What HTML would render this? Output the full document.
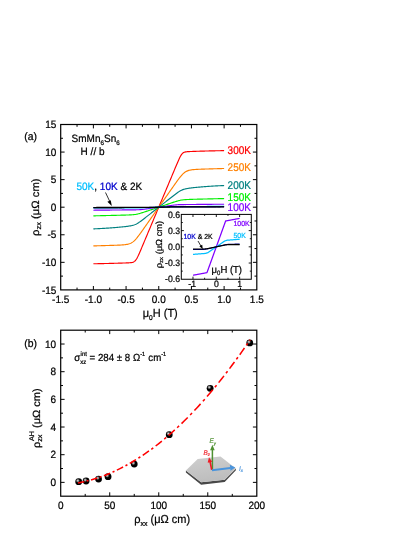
<!DOCTYPE html>
<html><head><meta charset="utf-8">
<style>
html,body{margin:0;padding:0;background:#fff;}
svg{display:block;will-change:transform;text-rendering:geometricPrecision;}
text{font-family:"Liberation Sans",sans-serif;stroke-width:0.22px;}
</style></head><body>
<svg width="415" height="537" viewBox="0 0 415 537">
<rect x="0" y="0" width="415" height="537" fill="#fff"/>

<g id="panelA">
<g fill="none" stroke-width="1.15" stroke-linejoin="round">
<path d="M93.38,263.77 L94.04,263.76 L94.69,263.74 L95.34,263.73 L96.00,263.72 L96.65,263.71 L97.31,263.70 L97.96,263.69 L98.61,263.67 L99.27,263.66 L99.92,263.65 L100.57,263.63 L101.23,263.62 L101.88,263.61 L102.53,263.59 L103.19,263.58 L103.84,263.56 L104.50,263.55 L105.15,263.53 L105.80,263.52 L106.46,263.50 L107.11,263.49 L107.76,263.47 L108.42,263.46 L109.07,263.44 L109.73,263.42 L110.38,263.41 L111.03,263.39 L111.69,263.37 L112.34,263.36 L112.99,263.34 L113.65,263.32 L114.30,263.30 L114.95,263.28 L115.61,263.27 L116.26,263.25 L116.92,263.23 L117.57,263.21 L118.22,263.19 L118.88,263.17 L119.53,263.15 L120.18,263.13 L120.84,263.11 L121.49,263.09 L122.14,263.07 L122.80,263.04 L123.45,263.02 L124.11,263.00 L124.76,262.98 L125.41,262.95 L126.07,262.93 L126.72,262.90 L127.37,262.87 L128.03,262.84 L128.68,262.81 L129.34,262.77 L129.99,262.72 L130.64,262.66 L131.30,262.59 L131.95,262.48 L132.60,262.33 L133.26,262.11 L133.91,261.80 L134.56,261.37 L135.22,260.77 L135.87,259.98 L136.53,259.01 L137.18,257.86 L137.83,256.57 L138.49,255.18 L139.14,253.72 L139.79,252.22 L140.45,250.70 L141.10,249.16 L141.75,247.62 L142.41,246.06 L143.06,244.51 L143.72,242.96 L144.37,241.40 L145.02,239.85 L145.68,238.30 L146.33,236.74 L146.98,235.19 L147.64,233.63 L148.29,232.08 L148.95,230.52 L149.60,228.97 L150.25,227.41 L150.91,225.86 L151.56,224.30 L152.21,222.75 L152.87,221.19 L153.52,219.64 L154.17,218.08 L154.83,216.53 L155.48,214.97 L156.14,213.42 L156.79,211.86 L157.44,210.31 L158.10,208.75 L158.75,207.20 L159.40,205.65 L160.06,204.09 L160.71,202.54 L161.36,200.98 L162.02,199.43 L162.67,197.87 L163.33,196.32 L163.98,194.76 L164.63,193.21 L165.29,191.65 L165.94,190.10 L166.59,188.54 L167.25,186.99 L167.90,185.43 L168.56,183.88 L169.21,182.32 L169.86,180.77 L170.52,179.21 L171.17,177.66 L171.82,176.10 L172.48,174.55 L173.13,173.00 L173.78,171.44 L174.44,169.89 L175.09,168.34 L175.75,166.78 L176.40,165.24 L177.05,163.70 L177.71,162.18 L178.36,160.68 L179.01,159.22 L179.67,157.83 L180.32,156.54 L180.97,155.39 L181.63,154.42 L182.28,153.63 L182.94,153.03 L183.59,152.60 L184.24,152.29 L184.90,152.07 L185.55,151.92 L186.20,151.81 L186.86,151.74 L187.51,151.68 L188.17,151.63 L188.82,151.59 L189.47,151.56 L190.13,151.53 L190.78,151.50 L191.43,151.47 L192.09,151.45 L192.74,151.42 L193.39,151.40 L194.05,151.38 L194.70,151.36 L195.36,151.33 L196.01,151.31 L196.66,151.29 L197.32,151.27 L197.97,151.25 L198.62,151.23 L199.28,151.21 L199.93,151.19 L200.58,151.17 L201.24,151.15 L201.89,151.13 L202.55,151.12 L203.20,151.10 L203.85,151.08 L204.51,151.06 L205.16,151.04 L205.81,151.03 L206.47,151.01 L207.12,150.99 L207.78,150.98 L208.43,150.96 L209.08,150.94 L209.74,150.93 L210.39,150.91 L211.04,150.90 L211.70,150.88 L212.35,150.87 L213.00,150.85 L213.66,150.84 L214.31,150.82 L214.97,150.81 L215.62,150.79 L216.27,150.78 L216.93,150.77 L217.58,150.75 L218.23,150.74 L218.89,150.73 L219.54,150.71 L220.19,150.70 L220.85,150.69 L221.50,150.68 L222.16,150.67 L222.81,150.66 L223.46,150.64 L224.12,150.63" stroke="#ff0000"/>
<path d="M93.38,245.90 L94.04,245.88 L94.69,245.87 L95.34,245.85 L96.00,245.83 L96.65,245.81 L97.31,245.79 L97.96,245.77 L98.61,245.76 L99.27,245.74 L99.92,245.72 L100.57,245.70 L101.23,245.68 L101.88,245.66 L102.53,245.64 L103.19,245.63 L103.84,245.61 L104.50,245.59 L105.15,245.57 L105.80,245.55 L106.46,245.53 L107.11,245.51 L107.76,245.49 L108.42,245.47 L109.07,245.45 L109.73,245.43 L110.38,245.42 L111.03,245.40 L111.69,245.38 L112.34,245.36 L112.99,245.33 L113.65,245.31 L114.30,245.29 L114.95,245.27 L115.61,245.25 L116.26,245.22 L116.92,245.20 L117.57,245.17 L118.22,245.15 L118.88,245.12 L119.53,245.09 L120.18,245.06 L120.84,245.02 L121.49,244.99 L122.14,244.94 L122.80,244.90 L123.45,244.84 L124.11,244.79 L124.76,244.72 L125.41,244.64 L126.07,244.55 L126.72,244.44 L127.37,244.32 L128.03,244.17 L128.68,244.00 L129.34,243.79 L129.99,243.55 L130.64,243.27 L131.30,242.94 L131.95,242.56 L132.60,242.12 L133.26,241.63 L133.91,241.08 L134.56,240.47 L135.22,239.81 L135.87,239.10 L136.53,238.34 L137.18,237.55 L137.83,236.73 L138.49,235.88 L139.14,235.01 L139.79,234.12 L140.45,233.22 L141.10,232.31 L141.75,231.39 L142.41,230.47 L143.06,229.55 L143.72,228.62 L144.37,227.69 L145.02,226.76 L145.68,225.83 L146.33,224.90 L146.98,223.97 L147.64,223.04 L148.29,222.11 L148.95,221.18 L149.60,220.24 L150.25,219.31 L150.91,218.38 L151.56,217.45 L152.21,216.52 L152.87,215.59 L153.52,214.65 L154.17,213.72 L154.83,212.79 L155.48,211.86 L156.14,210.93 L156.79,210.00 L157.44,209.06 L158.10,208.13 L158.75,207.20 L159.40,206.27 L160.06,205.34 L160.71,204.40 L161.36,203.47 L162.02,202.54 L162.67,201.61 L163.33,200.68 L163.98,199.75 L164.63,198.81 L165.29,197.88 L165.94,196.95 L166.59,196.02 L167.25,195.09 L167.90,194.16 L168.56,193.22 L169.21,192.29 L169.86,191.36 L170.52,190.43 L171.17,189.50 L171.82,188.57 L172.48,187.64 L173.13,186.71 L173.78,185.78 L174.44,184.85 L175.09,183.93 L175.75,183.01 L176.40,182.09 L177.05,181.18 L177.71,180.28 L178.36,179.39 L179.01,178.52 L179.67,177.67 L180.32,176.85 L180.97,176.06 L181.63,175.30 L182.28,174.59 L182.94,173.93 L183.59,173.32 L184.24,172.77 L184.90,172.28 L185.55,171.84 L186.20,171.46 L186.86,171.13 L187.51,170.85 L188.17,170.61 L188.82,170.40 L189.47,170.23 L190.13,170.08 L190.78,169.96 L191.43,169.85 L192.09,169.76 L192.74,169.68 L193.39,169.61 L194.05,169.56 L194.70,169.50 L195.36,169.46 L196.01,169.41 L196.66,169.38 L197.32,169.34 L197.97,169.31 L198.62,169.28 L199.28,169.25 L199.93,169.23 L200.58,169.20 L201.24,169.18 L201.89,169.15 L202.55,169.13 L203.20,169.11 L203.85,169.09 L204.51,169.07 L205.16,169.04 L205.81,169.02 L206.47,169.00 L207.12,168.98 L207.78,168.97 L208.43,168.95 L209.08,168.93 L209.74,168.91 L210.39,168.89 L211.04,168.87 L211.70,168.85 L212.35,168.83 L213.00,168.81 L213.66,168.79 L214.31,168.77 L214.97,168.76 L215.62,168.74 L216.27,168.72 L216.93,168.70 L217.58,168.68 L218.23,168.66 L218.89,168.64 L219.54,168.63 L220.19,168.61 L220.85,168.59 L221.50,168.57 L222.16,168.55 L222.81,168.53 L223.46,168.52 L224.12,168.50" stroke="#ff8000"/>
<path d="M93.38,228.87 L94.04,228.84 L94.69,228.81 L95.34,228.79 L96.00,228.76 L96.65,228.73 L97.31,228.70 L97.96,228.67 L98.61,228.64 L99.27,228.60 L99.92,228.57 L100.57,228.54 L101.23,228.50 L101.88,228.46 L102.53,228.43 L103.19,228.39 L103.84,228.35 L104.50,228.31 L105.15,228.27 L105.80,228.23 L106.46,228.19 L107.11,228.15 L107.76,228.10 L108.42,228.06 L109.07,228.01 L109.73,227.97 L110.38,227.92 L111.03,227.87 L111.69,227.82 L112.34,227.77 L112.99,227.72 L113.65,227.67 L114.30,227.62 L114.95,227.57 L115.61,227.51 L116.26,227.46 L116.92,227.40 L117.57,227.34 L118.22,227.29 L118.88,227.23 L119.53,227.17 L120.18,227.11 L120.84,227.04 L121.49,226.98 L122.14,226.92 L122.80,226.85 L123.45,226.78 L124.11,226.71 L124.76,226.64 L125.41,226.57 L126.07,226.49 L126.72,226.41 L127.37,226.33 L128.03,226.24 L128.68,226.15 L129.34,226.05 L129.99,225.94 L130.64,225.82 L131.30,225.70 L131.95,225.55 L132.60,225.40 L133.26,225.22 L133.91,225.02 L134.56,224.79 L135.22,224.53 L135.87,224.24 L136.53,223.92 L137.18,223.57 L137.83,223.18 L138.49,222.77 L139.14,222.34 L139.79,221.89 L140.45,221.42 L141.10,220.94 L141.75,220.45 L142.41,219.95 L143.06,219.45 L143.72,218.95 L144.37,218.44 L145.02,217.93 L145.68,217.42 L146.33,216.91 L146.98,216.40 L147.64,215.89 L148.29,215.38 L148.95,214.87 L149.60,214.36 L150.25,213.84 L150.91,213.33 L151.56,212.82 L152.21,212.31 L152.87,211.80 L153.52,211.29 L154.17,210.78 L154.83,210.27 L155.48,209.76 L156.14,209.24 L156.79,208.73 L157.44,208.22 L158.10,207.71 L158.75,207.20 L159.40,206.69 L160.06,206.18 L160.71,205.67 L161.36,205.16 L162.02,204.64 L162.67,204.13 L163.33,203.62 L163.98,203.11 L164.63,202.60 L165.29,202.09 L165.94,201.58 L166.59,201.07 L167.25,200.56 L167.90,200.04 L168.56,199.53 L169.21,199.02 L169.86,198.51 L170.52,198.00 L171.17,197.49 L171.82,196.98 L172.48,196.47 L173.13,195.96 L173.78,195.45 L174.44,194.95 L175.09,194.45 L175.75,193.95 L176.40,193.46 L177.05,192.98 L177.71,192.51 L178.36,192.06 L179.01,191.63 L179.67,191.22 L180.32,190.83 L180.97,190.48 L181.63,190.16 L182.28,189.87 L182.94,189.61 L183.59,189.38 L184.24,189.18 L184.90,189.00 L185.55,188.85 L186.20,188.70 L186.86,188.58 L187.51,188.46 L188.17,188.35 L188.82,188.25 L189.47,188.16 L190.13,188.07 L190.78,187.99 L191.43,187.91 L192.09,187.83 L192.74,187.76 L193.39,187.69 L194.05,187.62 L194.70,187.55 L195.36,187.48 L196.01,187.42 L196.66,187.36 L197.32,187.29 L197.97,187.23 L198.62,187.17 L199.28,187.11 L199.93,187.06 L200.58,187.00 L201.24,186.94 L201.89,186.89 L202.55,186.83 L203.20,186.78 L203.85,186.73 L204.51,186.68 L205.16,186.63 L205.81,186.58 L206.47,186.53 L207.12,186.48 L207.78,186.43 L208.43,186.39 L209.08,186.34 L209.74,186.30 L210.39,186.25 L211.04,186.21 L211.70,186.17 L212.35,186.13 L213.00,186.09 L213.66,186.05 L214.31,186.01 L214.97,185.97 L215.62,185.94 L216.27,185.90 L216.93,185.86 L217.58,185.83 L218.23,185.80 L218.89,185.76 L219.54,185.73 L220.19,185.70 L220.85,185.67 L221.50,185.64 L222.16,185.61 L222.81,185.59 L223.46,185.56 L224.12,185.53" stroke="#008080"/>
<path d="M93.38,215.86 L94.04,215.84 L94.69,215.82 L95.34,215.81 L96.00,215.79 L96.65,215.78 L97.31,215.76 L97.96,215.75 L98.61,215.73 L99.27,215.72 L99.92,215.70 L100.57,215.68 L101.23,215.67 L101.88,215.65 L102.53,215.64 L103.19,215.62 L103.84,215.61 L104.50,215.59 L105.15,215.57 L105.80,215.56 L106.46,215.54 L107.11,215.53 L107.76,215.51 L108.42,215.50 L109.07,215.48 L109.73,215.46 L110.38,215.45 L111.03,215.43 L111.69,215.42 L112.34,215.40 L112.99,215.39 L113.65,215.37 L114.30,215.35 L114.95,215.34 L115.61,215.32 L116.26,215.31 L116.92,215.29 L117.57,215.27 L118.22,215.26 L118.88,215.24 L119.53,215.23 L120.18,215.21 L120.84,215.19 L121.49,215.18 L122.14,215.16 L122.80,215.14 L123.45,215.12 L124.11,215.10 L124.76,215.09 L125.41,215.07 L126.07,215.05 L126.72,215.03 L127.37,215.00 L128.03,214.98 L128.68,214.95 L129.34,214.93 L129.99,214.90 L130.64,214.86 L131.30,214.82 L131.95,214.78 L132.60,214.73 L133.26,214.68 L133.91,214.61 L134.56,214.53 L135.22,214.45 L135.87,214.35 L136.53,214.23 L137.18,214.10 L137.83,213.96 L138.49,213.81 L139.14,213.64 L139.79,213.46 L140.45,213.27 L141.10,213.07 L141.75,212.87 L142.41,212.66 L143.06,212.45 L143.72,212.24 L144.37,212.02 L145.02,211.80 L145.68,211.59 L146.33,211.37 L146.98,211.15 L147.64,210.93 L148.29,210.71 L148.95,210.49 L149.60,210.27 L150.25,210.05 L150.91,209.83 L151.56,209.61 L152.21,209.39 L152.87,209.17 L153.52,208.96 L154.17,208.74 L154.83,208.52 L155.48,208.30 L156.14,208.08 L156.79,207.86 L157.44,207.64 L158.10,207.42 L158.75,207.20 L159.40,206.98 L160.06,206.76 L160.71,206.54 L161.36,206.32 L162.02,206.10 L162.67,205.88 L163.33,205.66 L163.98,205.44 L164.63,205.23 L165.29,205.01 L165.94,204.79 L166.59,204.57 L167.25,204.35 L167.90,204.13 L168.56,203.91 L169.21,203.69 L169.86,203.47 L170.52,203.25 L171.17,203.03 L171.82,202.81 L172.48,202.60 L173.13,202.38 L173.78,202.16 L174.44,201.95 L175.09,201.74 L175.75,201.53 L176.40,201.33 L177.05,201.13 L177.71,200.94 L178.36,200.76 L179.01,200.59 L179.67,200.44 L180.32,200.30 L180.97,200.17 L181.63,200.05 L182.28,199.95 L182.94,199.87 L183.59,199.79 L184.24,199.72 L184.90,199.67 L185.55,199.62 L186.20,199.58 L186.86,199.54 L187.51,199.50 L188.17,199.47 L188.82,199.45 L189.47,199.42 L190.13,199.40 L190.78,199.37 L191.43,199.35 L192.09,199.33 L192.74,199.31 L193.39,199.30 L194.05,199.28 L194.70,199.26 L195.36,199.24 L196.01,199.22 L196.66,199.21 L197.32,199.19 L197.97,199.17 L198.62,199.16 L199.28,199.14 L199.93,199.13 L200.58,199.11 L201.24,199.09 L201.89,199.08 L202.55,199.06 L203.20,199.05 L203.85,199.03 L204.51,199.01 L205.16,199.00 L205.81,198.98 L206.47,198.97 L207.12,198.95 L207.78,198.94 L208.43,198.92 L209.08,198.90 L209.74,198.89 L210.39,198.87 L211.04,198.86 L211.70,198.84 L212.35,198.83 L213.00,198.81 L213.66,198.79 L214.31,198.78 L214.97,198.76 L215.62,198.75 L216.27,198.73 L216.93,198.72 L217.58,198.70 L218.23,198.68 L218.89,198.67 L219.54,198.65 L220.19,198.64 L220.85,198.62 L221.50,198.61 L222.16,198.59 L222.81,198.58 L223.46,198.56 L224.12,198.54" stroke="#00ee00"/>
<path d="M93.38,210.20 L94.04,210.20 L94.69,210.19 L95.34,210.19 L96.00,210.18 L96.65,210.18 L97.31,210.17 L97.96,210.16 L98.61,210.16 L99.27,210.15 L99.92,210.15 L100.57,210.14 L101.23,210.13 L101.88,210.13 L102.53,210.12 L103.19,210.12 L103.84,210.11 L104.50,210.10 L105.15,210.10 L105.80,210.09 L106.46,210.09 L107.11,210.08 L107.76,210.07 L108.42,210.07 L109.07,210.06 L109.73,210.06 L110.38,210.05 L111.03,210.05 L111.69,210.04 L112.34,210.03 L112.99,210.03 L113.65,210.02 L114.30,210.02 L114.95,210.01 L115.61,210.00 L116.26,210.00 L116.92,209.99 L117.57,209.99 L118.22,209.98 L118.88,209.97 L119.53,209.97 L120.18,209.96 L120.84,209.96 L121.49,209.95 L122.14,209.94 L122.80,209.94 L123.45,209.93 L124.11,209.93 L124.76,209.92 L125.41,209.92 L126.07,209.91 L126.72,209.90 L127.37,209.90 L128.03,209.89 L128.68,209.89 L129.34,209.88 L129.99,209.87 L130.64,209.87 L131.30,209.86 L131.95,209.85 L132.60,209.85 L133.26,209.84 L133.91,209.83 L134.56,209.83 L135.22,209.82 L135.87,209.81 L136.53,209.80 L137.18,209.78 L137.83,209.77 L138.49,209.75 L139.14,209.72 L139.79,209.68 L140.45,209.64 L141.10,209.58 L141.75,209.52 L142.41,209.45 L143.06,209.37 L143.72,209.28 L144.37,209.20 L145.02,209.11 L145.68,209.02 L146.33,208.93 L146.98,208.84 L147.64,208.75 L148.29,208.66 L148.95,208.56 L149.60,208.47 L150.25,208.38 L150.91,208.29 L151.56,208.20 L152.21,208.11 L152.87,208.02 L153.52,207.93 L154.17,207.84 L154.83,207.75 L155.48,207.65 L156.14,207.56 L156.79,207.47 L157.44,207.38 L158.10,207.29 L158.75,207.20 L159.40,207.11 L160.06,207.02 L160.71,206.93 L161.36,206.84 L162.02,206.75 L162.67,206.65 L163.33,206.56 L163.98,206.47 L164.63,206.38 L165.29,206.29 L165.94,206.20 L166.59,206.11 L167.25,206.02 L167.90,205.93 L168.56,205.84 L169.21,205.74 L169.86,205.65 L170.52,205.56 L171.17,205.47 L171.82,205.38 L172.48,205.29 L173.13,205.20 L173.78,205.12 L174.44,205.03 L175.09,204.95 L175.75,204.88 L176.40,204.82 L177.05,204.76 L177.71,204.72 L178.36,204.68 L179.01,204.65 L179.67,204.63 L180.32,204.62 L180.97,204.60 L181.63,204.59 L182.28,204.58 L182.94,204.57 L183.59,204.57 L184.24,204.56 L184.90,204.55 L185.55,204.55 L186.20,204.54 L186.86,204.53 L187.51,204.53 L188.17,204.52 L188.82,204.51 L189.47,204.51 L190.13,204.50 L190.78,204.50 L191.43,204.49 L192.09,204.48 L192.74,204.48 L193.39,204.47 L194.05,204.47 L194.70,204.46 L195.36,204.46 L196.01,204.45 L196.66,204.44 L197.32,204.44 L197.97,204.43 L198.62,204.43 L199.28,204.42 L199.93,204.41 L200.58,204.41 L201.24,204.40 L201.89,204.40 L202.55,204.39 L203.20,204.38 L203.85,204.38 L204.51,204.37 L205.16,204.37 L205.81,204.36 L206.47,204.35 L207.12,204.35 L207.78,204.34 L208.43,204.34 L209.08,204.33 L209.74,204.33 L210.39,204.32 L211.04,204.31 L211.70,204.31 L212.35,204.30 L213.00,204.30 L213.66,204.29 L214.31,204.28 L214.97,204.28 L215.62,204.27 L216.27,204.27 L216.93,204.26 L217.58,204.25 L218.23,204.25 L218.89,204.24 L219.54,204.24 L220.19,204.23 L220.85,204.22 L221.50,204.22 L222.16,204.21 L222.81,204.21 L223.46,204.20 L224.12,204.20" stroke="#8000ff"/>
<path d="M93.38,208.03 L94.04,208.02 L94.69,208.02 L95.34,208.02 L96.00,208.02 L96.65,208.01 L97.31,208.01 L97.96,208.01 L98.61,208.00 L99.27,208.00 L99.92,208.00 L100.57,208.00 L101.23,207.99 L101.88,207.99 L102.53,207.99 L103.19,207.99 L103.84,207.98 L104.50,207.98 L105.15,207.98 L105.80,207.97 L106.46,207.97 L107.11,207.97 L107.76,207.97 L108.42,207.96 L109.07,207.96 L109.73,207.96 L110.38,207.96 L111.03,207.95 L111.69,207.95 L112.34,207.95 L112.99,207.94 L113.65,207.94 L114.30,207.94 L114.95,207.94 L115.61,207.93 L116.26,207.93 L116.92,207.93 L117.57,207.93 L118.22,207.92 L118.88,207.92 L119.53,207.92 L120.18,207.91 L120.84,207.91 L121.49,207.91 L122.14,207.91 L122.80,207.90 L123.45,207.90 L124.11,207.90 L124.76,207.89 L125.41,207.89 L126.07,207.89 L126.72,207.89 L127.37,207.88 L128.03,207.88 L128.68,207.88 L129.34,207.88 L129.99,207.87 L130.64,207.87 L131.30,207.87 L131.95,207.86 L132.60,207.86 L133.26,207.86 L133.91,207.86 L134.56,207.85 L135.22,207.85 L135.87,207.85 L136.53,207.84 L137.18,207.84 L137.83,207.84 L138.49,207.84 L139.14,207.83 L139.79,207.83 L140.45,207.83 L141.10,207.82 L141.75,207.82 L142.41,207.81 L143.06,207.80 L143.72,207.79 L144.37,207.78 L145.02,207.76 L145.68,207.74 L146.33,207.72 L146.98,207.69 L147.64,207.67 L148.29,207.64 L148.95,207.61 L149.60,207.59 L150.25,207.56 L150.91,207.53 L151.56,207.50 L152.21,207.48 L152.87,207.45 L153.52,207.42 L154.17,207.39 L154.83,207.37 L155.48,207.34 L156.14,207.31 L156.79,207.28 L157.44,207.26 L158.10,207.23 L158.75,207.20 L159.40,207.17 L160.06,207.14 L160.71,207.12 L161.36,207.09 L162.02,207.06 L162.67,207.03 L163.33,207.01 L163.98,206.98 L164.63,206.95 L165.29,206.92 L165.94,206.90 L166.59,206.87 L167.25,206.84 L167.90,206.81 L168.56,206.79 L169.21,206.76 L169.86,206.73 L170.52,206.71 L171.17,206.68 L171.82,206.66 L172.48,206.64 L173.13,206.62 L173.78,206.61 L174.44,206.60 L175.09,206.59 L175.75,206.58 L176.40,206.58 L177.05,206.57 L177.71,206.57 L178.36,206.57 L179.01,206.56 L179.67,206.56 L180.32,206.56 L180.97,206.56 L181.63,206.55 L182.28,206.55 L182.94,206.55 L183.59,206.54 L184.24,206.54 L184.90,206.54 L185.55,206.54 L186.20,206.53 L186.86,206.53 L187.51,206.53 L188.17,206.52 L188.82,206.52 L189.47,206.52 L190.13,206.52 L190.78,206.51 L191.43,206.51 L192.09,206.51 L192.74,206.51 L193.39,206.50 L194.05,206.50 L194.70,206.50 L195.36,206.49 L196.01,206.49 L196.66,206.49 L197.32,206.49 L197.97,206.48 L198.62,206.48 L199.28,206.48 L199.93,206.47 L200.58,206.47 L201.24,206.47 L201.89,206.47 L202.55,206.46 L203.20,206.46 L203.85,206.46 L204.51,206.46 L205.16,206.45 L205.81,206.45 L206.47,206.45 L207.12,206.44 L207.78,206.44 L208.43,206.44 L209.08,206.44 L209.74,206.43 L210.39,206.43 L211.04,206.43 L211.70,206.43 L212.35,206.42 L213.00,206.42 L213.66,206.42 L214.31,206.41 L214.97,206.41 L215.62,206.41 L216.27,206.41 L216.93,206.40 L217.58,206.40 L218.23,206.40 L218.89,206.40 L219.54,206.39 L220.19,206.39 L220.85,206.39 L221.50,206.38 L222.16,206.38 L222.81,206.38 L223.46,206.38 L224.12,206.37" stroke="#00bfff"/>
<path d="M93.38,207.61 L94.04,207.61 L94.69,207.61 L95.34,207.61 L96.00,207.61 L96.65,207.61 L97.31,207.60 L97.96,207.60 L98.61,207.60 L99.27,207.60 L99.92,207.60 L100.57,207.60 L101.23,207.59 L101.88,207.59 L102.53,207.59 L103.19,207.59 L103.84,207.59 L104.50,207.59 L105.15,207.59 L105.80,207.58 L106.46,207.58 L107.11,207.58 L107.76,207.58 L108.42,207.58 L109.07,207.58 L109.73,207.57 L110.38,207.57 L111.03,207.57 L111.69,207.57 L112.34,207.57 L112.99,207.57 L113.65,207.56 L114.30,207.56 L114.95,207.56 L115.61,207.56 L116.26,207.56 L116.92,207.56 L117.57,207.56 L118.22,207.55 L118.88,207.55 L119.53,207.55 L120.18,207.55 L120.84,207.55 L121.49,207.55 L122.14,207.54 L122.80,207.54 L123.45,207.54 L124.11,207.54 L124.76,207.54 L125.41,207.54 L126.07,207.53 L126.72,207.53 L127.37,207.53 L128.03,207.53 L128.68,207.53 L129.34,207.53 L129.99,207.53 L130.64,207.52 L131.30,207.52 L131.95,207.52 L132.60,207.52 L133.26,207.52 L133.91,207.52 L134.56,207.51 L135.22,207.51 L135.87,207.51 L136.53,207.51 L137.18,207.51 L137.83,207.51 L138.49,207.50 L139.14,207.50 L139.79,207.50 L140.45,207.50 L141.10,207.50 L141.75,207.50 L142.41,207.50 L143.06,207.49 L143.72,207.49 L144.37,207.49 L145.02,207.49 L145.68,207.48 L146.33,207.48 L146.98,207.48 L147.64,207.47 L148.29,207.46 L148.95,207.45 L149.60,207.43 L150.25,207.41 L150.91,207.40 L151.56,207.38 L152.21,207.37 L152.87,207.35 L153.52,207.33 L154.17,207.32 L154.83,207.30 L155.48,207.28 L156.14,207.27 L156.79,207.25 L157.44,207.23 L158.10,207.22 L158.75,207.20 L159.40,207.18 L160.06,207.17 L160.71,207.15 L161.36,207.13 L162.02,207.12 L162.67,207.10 L163.33,207.08 L163.98,207.07 L164.63,207.05 L165.29,207.03 L165.94,207.02 L166.59,207.00 L167.25,206.99 L167.90,206.97 L168.56,206.95 L169.21,206.94 L169.86,206.93 L170.52,206.92 L171.17,206.92 L171.82,206.92 L172.48,206.91 L173.13,206.91 L173.78,206.91 L174.44,206.91 L175.09,206.90 L175.75,206.90 L176.40,206.90 L177.05,206.90 L177.71,206.90 L178.36,206.90 L179.01,206.90 L179.67,206.89 L180.32,206.89 L180.97,206.89 L181.63,206.89 L182.28,206.89 L182.94,206.89 L183.59,206.88 L184.24,206.88 L184.90,206.88 L185.55,206.88 L186.20,206.88 L186.86,206.88 L187.51,206.87 L188.17,206.87 L188.82,206.87 L189.47,206.87 L190.13,206.87 L190.78,206.87 L191.43,206.87 L192.09,206.86 L192.74,206.86 L193.39,206.86 L194.05,206.86 L194.70,206.86 L195.36,206.86 L196.01,206.85 L196.66,206.85 L197.32,206.85 L197.97,206.85 L198.62,206.85 L199.28,206.85 L199.93,206.84 L200.58,206.84 L201.24,206.84 L201.89,206.84 L202.55,206.84 L203.20,206.84 L203.85,206.84 L204.51,206.83 L205.16,206.83 L205.81,206.83 L206.47,206.83 L207.12,206.83 L207.78,206.83 L208.43,206.82 L209.08,206.82 L209.74,206.82 L210.39,206.82 L211.04,206.82 L211.70,206.82 L212.35,206.81 L213.00,206.81 L213.66,206.81 L214.31,206.81 L214.97,206.81 L215.62,206.81 L216.27,206.81 L216.93,206.80 L217.58,206.80 L218.23,206.80 L218.89,206.80 L219.54,206.80 L220.19,206.80 L220.85,206.79 L221.50,206.79 L222.16,206.79 L222.81,206.79 L223.46,206.79 L224.12,206.79" stroke="#000080"/>
<path d="M93.38,207.53 L94.04,207.53 L94.69,207.53 L95.34,207.53 L96.00,207.53 L96.65,207.52 L97.31,207.52 L97.96,207.52 L98.61,207.52 L99.27,207.52 L99.92,207.52 L100.57,207.52 L101.23,207.52 L101.88,207.52 L102.53,207.51 L103.19,207.51 L103.84,207.51 L104.50,207.51 L105.15,207.51 L105.80,207.51 L106.46,207.51 L107.11,207.51 L107.76,207.50 L108.42,207.50 L109.07,207.50 L109.73,207.50 L110.38,207.50 L111.03,207.50 L111.69,207.50 L112.34,207.50 L112.99,207.50 L113.65,207.49 L114.30,207.49 L114.95,207.49 L115.61,207.49 L116.26,207.49 L116.92,207.49 L117.57,207.49 L118.22,207.49 L118.88,207.48 L119.53,207.48 L120.18,207.48 L120.84,207.48 L121.49,207.48 L122.14,207.48 L122.80,207.48 L123.45,207.48 L124.11,207.48 L124.76,207.47 L125.41,207.47 L126.07,207.47 L126.72,207.47 L127.37,207.47 L128.03,207.47 L128.68,207.47 L129.34,207.47 L129.99,207.46 L130.64,207.46 L131.30,207.46 L131.95,207.46 L132.60,207.46 L133.26,207.46 L133.91,207.46 L134.56,207.46 L135.22,207.46 L135.87,207.45 L136.53,207.45 L137.18,207.45 L137.83,207.45 L138.49,207.45 L139.14,207.45 L139.79,207.45 L140.45,207.45 L141.10,207.44 L141.75,207.44 L142.41,207.44 L143.06,207.44 L143.72,207.44 L144.37,207.44 L145.02,207.44 L145.68,207.43 L146.33,207.43 L146.98,207.43 L147.64,207.42 L148.29,207.41 L148.95,207.40 L149.60,207.39 L150.25,207.38 L150.91,207.37 L151.56,207.35 L152.21,207.34 L152.87,207.32 L153.52,207.31 L154.17,207.30 L154.83,207.28 L155.48,207.27 L156.14,207.26 L156.79,207.24 L157.44,207.23 L158.10,207.21 L158.75,207.20 L159.40,207.19 L160.06,207.17 L160.71,207.16 L161.36,207.14 L162.02,207.13 L162.67,207.12 L163.33,207.10 L163.98,207.09 L164.63,207.08 L165.29,207.06 L165.94,207.05 L166.59,207.03 L167.25,207.02 L167.90,207.01 L168.56,207.00 L169.21,206.99 L169.86,206.98 L170.52,206.97 L171.17,206.97 L171.82,206.97 L172.48,206.96 L173.13,206.96 L173.78,206.96 L174.44,206.96 L175.09,206.96 L175.75,206.96 L176.40,206.96 L177.05,206.95 L177.71,206.95 L178.36,206.95 L179.01,206.95 L179.67,206.95 L180.32,206.95 L180.97,206.95 L181.63,206.95 L182.28,206.94 L182.94,206.94 L183.59,206.94 L184.24,206.94 L184.90,206.94 L185.55,206.94 L186.20,206.94 L186.86,206.94 L187.51,206.94 L188.17,206.93 L188.82,206.93 L189.47,206.93 L190.13,206.93 L190.78,206.93 L191.43,206.93 L192.09,206.93 L192.74,206.93 L193.39,206.92 L194.05,206.92 L194.70,206.92 L195.36,206.92 L196.01,206.92 L196.66,206.92 L197.32,206.92 L197.97,206.92 L198.62,206.92 L199.28,206.91 L199.93,206.91 L200.58,206.91 L201.24,206.91 L201.89,206.91 L202.55,206.91 L203.20,206.91 L203.85,206.91 L204.51,206.90 L205.16,206.90 L205.81,206.90 L206.47,206.90 L207.12,206.90 L207.78,206.90 L208.43,206.90 L209.08,206.90 L209.74,206.90 L210.39,206.89 L211.04,206.89 L211.70,206.89 L212.35,206.89 L213.00,206.89 L213.66,206.89 L214.31,206.89 L214.97,206.89 L215.62,206.88 L216.27,206.88 L216.93,206.88 L217.58,206.88 L218.23,206.88 L218.89,206.88 L219.54,206.88 L220.19,206.88 L220.85,206.88 L221.50,206.87 L222.16,206.87 L222.81,206.87 L223.46,206.87 L224.12,206.87" stroke="#000000" stroke-width="1.3"/>
</g>
<rect x="60.70" y="124.50" width="196.10" height="165.40" fill="none" stroke="#000" stroke-width="1.2"/>
<path d="M77.04,289.90v-2.30M77.04,124.50v2.30M93.38,289.90v-3.90M93.38,124.50v3.90M109.73,289.90v-2.30M109.73,124.50v2.30M126.07,289.90v-3.90M126.07,124.50v3.90M142.41,289.90v-2.30M142.41,124.50v2.30M158.75,289.90v-3.90M158.75,124.50v3.90M175.09,289.90v-2.30M175.09,124.50v2.30M191.43,289.90v-3.90M191.43,124.50v3.90M207.78,289.90v-2.30M207.78,124.50v2.30M224.12,289.90v-3.90M224.12,124.50v3.90M240.46,289.90v-2.30M240.46,124.50v2.30M60.70,276.12h2.30M256.80,276.12h-2.30M60.70,262.33h3.90M256.80,262.33h-3.90M60.70,248.55h2.30M256.80,248.55h-2.30M60.70,234.77h3.90M256.80,234.77h-3.90M60.70,220.98h2.30M256.80,220.98h-2.30M60.70,207.20h3.90M256.80,207.20h-3.90M60.70,193.42h2.30M256.80,193.42h-2.30M60.70,179.63h3.90M256.80,179.63h-3.90M60.70,165.85h2.30M256.80,165.85h-2.30M60.70,152.07h3.90M256.80,152.07h-3.90M60.70,138.28h2.30M256.80,138.28h-2.30" stroke="#000" stroke-width="1.0" fill="none"/>
<text transform="translate(60.70,303.00) scale(1,1.060)" font-size="10.0" text-anchor="middle" stroke="#000">-1.5</text>
<text transform="translate(93.38,303.00) scale(1,1.060)" font-size="10.0" text-anchor="middle" stroke="#000">-1.0</text>
<text transform="translate(126.07,303.00) scale(1,1.060)" font-size="10.0" text-anchor="middle" stroke="#000">-0.5</text>
<text transform="translate(158.75,303.00) scale(1,1.060)" font-size="10.0" text-anchor="middle" stroke="#000">0.0</text>
<text transform="translate(191.43,303.00) scale(1,1.060)" font-size="10.0" text-anchor="middle" stroke="#000">0.5</text>
<text transform="translate(224.12,303.00) scale(1,1.060)" font-size="10.0" text-anchor="middle" stroke="#000">1.0</text>
<text transform="translate(256.80,303.00) scale(1,1.060)" font-size="10.0" text-anchor="middle" stroke="#000">1.5</text>
<text transform="translate(56.40,293.60) scale(1,1.060)" font-size="10.0" text-anchor="end" stroke="#000">-15</text>
<text transform="translate(56.40,266.03) scale(1,1.060)" font-size="10.0" text-anchor="end" stroke="#000">-10</text>
<text transform="translate(56.40,238.47) scale(1,1.060)" font-size="10.0" text-anchor="end" stroke="#000">-5</text>
<text transform="translate(56.40,210.90) scale(1,1.060)" font-size="10.0" text-anchor="end" stroke="#000">0</text>
<text transform="translate(56.40,183.33) scale(1,1.060)" font-size="10.0" text-anchor="end" stroke="#000">5</text>
<text transform="translate(56.40,155.77) scale(1,1.060)" font-size="10.0" text-anchor="end" stroke="#000">10</text>
<text transform="translate(56.40,128.20) scale(1,1.060)" font-size="10.0" text-anchor="end" stroke="#000">15</text>
<text transform="translate(160.25,316.50) scale(1,1.060)" font-size="11.0" text-anchor="middle" stroke="#000">μ<tspan font-size="6.6" dy="3">0</tspan><tspan dy="-3">H (T)</tspan></text>
<text transform="translate(39.40,207.20) rotate(-90) scale(1.060,1)" font-size="10.6" text-anchor="middle" stroke="#000">ρ<tspan font-size="7" dy="2">zx</tspan><tspan dy="-2"> (μΩ cm)</tspan></text>
<text transform="translate(24.30,139.50) scale(1,1.060)" font-size="10.4" stroke="#000">(a)</text>
<text transform="translate(71.60,141.80) scale(1,1.060)" font-size="10" stroke="#000">SmMn<tspan font-size="6.2" dy="2.8">6</tspan><tspan dy="-2.8">Sn</tspan><tspan font-size="6.2" dy="2.8">6</tspan></text>
<text transform="translate(80.60,155.40) scale(1,1.060)" font-size="10" stroke="#000">H // b</text>
<text transform="translate(227.60,153.80) scale(1,1.120)" font-size="10.0" fill="#ff0000" stroke="#ff0000" stroke-width="0.1">300K</text>
<text transform="translate(227.60,171.40) scale(1,1.120)" font-size="10.0" fill="#ff8000" stroke="#ff8000" stroke-width="0.1">250K</text>
<text transform="translate(227.60,189.30) scale(1,1.120)" font-size="10.0" fill="#008080" stroke="#008080" stroke-width="0.1">200K</text>
<text transform="translate(227.60,200.90) scale(1,1.120)" font-size="10.0" fill="#00ee00" stroke="#00ee00" stroke-width="0.1">150K</text>
<text transform="translate(227.60,210.90) scale(1,1.120)" font-size="10.0" fill="#8000ff" stroke="#8000ff" stroke-width="0.1">100K</text>
<text transform="translate(76.50,190.10) scale(1,1.060)" font-size="10" stroke="#000"><tspan fill="#00bfff" stroke="#00bfff">50K</tspan>, <tspan fill="#0000cd" stroke="#0000cd">10K</tspan> &amp; 2K</text>
<path d="M105.5,192.5 L110.5,203" stroke="#000" stroke-width="0.8" fill="none"/>
<path d="M111.8,206 L107.4,201.8 L110.7,200.2 Z" fill="#000"/>
<rect x="181.30" y="214.40" width="70.00" height="64.85" fill="#fff" stroke="#000" stroke-width="1.0"/>
<g fill="none" stroke-width="1.25" stroke-linejoin="round">
<path d="M192.97,275.25 L193.20,275.21 L193.43,275.16 L193.67,275.12 L193.90,275.08 L194.13,275.03 L194.37,274.99 L194.60,274.95 L194.83,274.91 L195.07,274.86 L195.30,274.82 L195.53,274.78 L195.77,274.73 L196.00,274.69 L196.23,274.65 L196.47,274.60 L196.70,274.56 L196.93,274.52 L197.17,274.47 L197.40,274.43 L197.63,274.39 L197.87,274.34 L198.10,274.30 L198.33,274.26 L198.57,274.21 L198.80,274.17 L199.03,274.13 L199.27,274.08 L199.50,274.04 L199.73,274.00 L199.97,273.95 L200.20,273.91 L200.43,273.87 L200.67,273.82 L200.90,273.78 L201.13,273.74 L201.37,273.69 L201.60,273.65 L201.83,273.61 L202.07,273.56 L202.30,273.52 L202.53,273.48 L202.77,273.44 L203.00,273.39 L203.23,273.35 L203.47,273.31 L203.70,273.26 L203.93,273.22 L204.17,273.18 L204.40,273.13 L204.63,273.09 L204.87,273.05 L205.10,273.00 L205.33,272.96 L205.57,272.92 L205.80,272.87 L206.03,272.83 L206.27,272.79 L206.50,272.74 L206.73,272.70 L206.97,272.66 L207.20,272.01 L207.43,271.37 L207.67,270.72 L207.90,270.07 L208.13,269.43 L208.37,268.78 L208.60,268.14 L208.83,267.49 L209.07,266.84 L209.30,266.20 L209.53,265.55 L209.77,264.91 L210.00,264.26 L210.23,263.62 L210.47,262.97 L210.70,262.32 L210.93,261.68 L211.17,261.03 L211.40,260.39 L211.63,259.74 L211.87,259.10 L212.10,258.45 L212.33,257.80 L212.57,257.16 L212.80,256.51 L213.03,255.87 L213.27,255.22 L213.50,254.57 L213.73,253.93 L213.97,253.28 L214.20,252.64 L214.43,251.99 L214.67,251.35 L214.90,250.70 L215.13,250.05 L215.37,249.41 L215.60,248.76 L215.83,248.12 L216.07,247.47 L216.30,246.82 L216.53,246.18 L216.77,245.53 L217.00,244.89 L217.23,244.24 L217.47,243.60 L217.70,242.95 L217.93,242.30 L218.17,241.66 L218.40,241.01 L218.63,240.37 L218.87,239.72 L219.10,239.08 L219.33,238.43 L219.57,237.78 L219.80,237.14 L220.03,236.49 L220.27,235.85 L220.50,235.20 L220.73,234.55 L220.97,233.91 L221.20,233.26 L221.43,232.62 L221.67,231.97 L221.90,231.33 L222.13,230.68 L222.37,230.03 L222.60,229.39 L222.83,228.74 L223.07,228.10 L223.30,227.45 L223.53,226.81 L223.77,226.16 L224.00,225.51 L224.23,224.87 L224.47,224.22 L224.70,223.58 L224.93,222.93 L225.17,222.28 L225.40,221.64 L225.63,220.99 L225.87,220.95 L226.10,220.91 L226.33,220.86 L226.57,220.82 L226.80,220.78 L227.03,220.73 L227.27,220.69 L227.50,220.65 L227.73,220.60 L227.97,220.56 L228.20,220.52 L228.43,220.47 L228.67,220.43 L228.90,220.39 L229.13,220.34 L229.37,220.30 L229.60,220.26 L229.83,220.21 L230.07,220.17 L230.30,220.13 L230.53,220.09 L230.77,220.04 L231.00,220.00 L231.23,219.96 L231.47,219.91 L231.70,219.87 L231.93,219.83 L232.17,219.78 L232.40,219.74 L232.63,219.70 L232.87,219.65 L233.10,219.61 L233.33,219.57 L233.57,219.52 L233.80,219.48 L234.03,219.44 L234.27,219.39 L234.50,219.35 L234.73,219.31 L234.97,219.26 L235.20,219.22 L235.43,219.18 L235.67,219.13 L235.90,219.09 L236.13,219.05 L236.37,219.00 L236.60,218.96 L236.83,218.92 L237.07,218.87 L237.30,218.83 L237.53,218.79 L237.77,218.74 L238.00,218.70 L238.23,218.66 L238.47,218.62 L238.70,218.57 L238.93,218.53 L239.17,218.49 L239.40,218.44 L239.63,218.40" stroke="#8000ff"/>
<path d="M192.97,254.39 L193.20,254.37 L193.43,254.35 L193.67,254.34 L193.90,254.32 L194.13,254.30 L194.37,254.28 L194.60,254.26 L194.83,254.25 L195.07,254.23 L195.30,254.21 L195.53,254.19 L195.77,254.17 L196.00,254.16 L196.23,254.14 L196.47,254.12 L196.70,254.10 L196.93,254.08 L197.17,254.07 L197.40,254.05 L197.63,254.03 L197.87,254.01 L198.10,253.99 L198.33,253.98 L198.57,253.96 L198.80,253.94 L199.03,253.92 L199.27,253.90 L199.50,253.89 L199.73,253.87 L199.97,253.85 L200.20,253.83 L200.43,253.81 L200.67,253.80 L200.90,253.78 L201.13,253.76 L201.37,253.74 L201.60,253.72 L201.83,253.71 L202.07,253.69 L202.30,253.67 L202.53,253.65 L202.77,253.63 L203.00,253.62 L203.23,253.60 L203.47,253.58 L203.70,253.56 L203.93,253.54 L204.17,253.53 L204.40,253.51 L204.63,253.49 L204.87,253.47 L205.10,253.45 L205.33,253.44 L205.57,253.42 L205.80,253.34 L206.03,253.27 L206.27,253.19 L206.50,253.12 L206.73,253.04 L206.97,252.96 L207.20,252.89 L207.43,252.81 L207.67,252.74 L207.90,252.66 L208.13,252.50 L208.37,252.34 L208.60,252.18 L208.83,252.01 L209.07,251.85 L209.30,251.69 L209.53,251.53 L209.77,251.36 L210.00,251.20 L210.23,251.04 L210.47,250.88 L210.70,250.72 L210.93,250.55 L211.17,250.39 L211.40,250.23 L211.63,250.07 L211.87,249.91 L212.10,249.74 L212.33,249.58 L212.57,249.42 L212.80,249.26 L213.03,249.09 L213.27,248.93 L213.50,248.77 L213.73,248.61 L213.97,248.45 L214.20,248.28 L214.43,248.12 L214.67,247.96 L214.90,247.80 L215.13,247.64 L215.37,247.47 L215.60,247.31 L215.83,247.15 L216.07,246.99 L216.30,246.82 L216.53,246.66 L216.77,246.50 L217.00,246.34 L217.23,246.18 L217.47,246.01 L217.70,245.85 L217.93,245.69 L218.17,245.53 L218.40,245.37 L218.63,245.20 L218.87,245.04 L219.10,244.88 L219.33,244.72 L219.57,244.56 L219.80,244.39 L220.03,244.23 L220.27,244.07 L220.50,243.91 L220.73,243.74 L220.97,243.58 L221.20,243.42 L221.43,243.26 L221.67,243.10 L221.90,242.93 L222.13,242.77 L222.37,242.61 L222.60,242.45 L222.83,242.29 L223.07,242.12 L223.30,241.96 L223.53,241.80 L223.77,241.64 L224.00,241.47 L224.23,241.31 L224.47,241.15 L224.70,240.99 L224.93,240.91 L225.17,240.84 L225.40,240.76 L225.63,240.69 L225.87,240.61 L226.10,240.53 L226.33,240.46 L226.57,240.38 L226.80,240.31 L227.03,240.23 L227.27,240.21 L227.50,240.20 L227.73,240.18 L227.97,240.16 L228.20,240.14 L228.43,240.12 L228.67,240.11 L228.90,240.09 L229.13,240.07 L229.37,240.05 L229.60,240.03 L229.83,240.02 L230.07,240.00 L230.30,239.98 L230.53,239.96 L230.77,239.94 L231.00,239.93 L231.23,239.91 L231.47,239.89 L231.70,239.87 L231.93,239.85 L232.17,239.84 L232.40,239.82 L232.63,239.80 L232.87,239.78 L233.10,239.76 L233.33,239.75 L233.57,239.73 L233.80,239.71 L234.03,239.69 L234.27,239.67 L234.50,239.66 L234.73,239.64 L234.97,239.62 L235.20,239.60 L235.43,239.58 L235.67,239.57 L235.90,239.55 L236.13,239.53 L236.37,239.51 L236.60,239.49 L236.83,239.48 L237.07,239.46 L237.30,239.44 L237.53,239.42 L237.77,239.40 L238.00,239.39 L238.23,239.37 L238.47,239.35 L238.70,239.33 L238.93,239.31 L239.17,239.30 L239.40,239.28 L239.63,239.26" stroke="#00bfff"/>
<path d="M192.97,249.53 L193.20,249.52 L193.43,249.52 L193.67,249.52 L193.90,249.52 L194.13,249.52 L194.37,249.51 L194.60,249.51 L194.83,249.51 L195.07,249.51 L195.30,249.50 L195.53,249.50 L195.77,249.50 L196.00,249.50 L196.23,249.49 L196.47,249.49 L196.70,249.49 L196.93,249.49 L197.17,249.48 L197.40,249.48 L197.63,249.48 L197.87,249.48 L198.10,249.47 L198.33,249.47 L198.57,249.47 L198.80,249.47 L199.03,249.46 L199.27,249.46 L199.50,249.46 L199.73,249.46 L199.97,249.46 L200.20,249.45 L200.43,249.45 L200.67,249.45 L200.90,249.45 L201.13,249.44 L201.37,249.44 L201.60,249.44 L201.83,249.44 L202.07,249.43 L202.30,249.43 L202.53,249.43 L202.77,249.43 L203.00,249.42 L203.23,249.42 L203.47,249.42 L203.70,249.39 L203.93,249.36 L204.17,249.33 L204.40,249.30 L204.63,249.27 L204.87,249.25 L205.10,249.22 L205.33,249.19 L205.57,249.16 L205.80,249.13 L206.03,249.10 L206.27,249.07 L206.50,249.04 L206.73,249.02 L206.97,248.99 L207.20,248.93 L207.43,248.88 L207.67,248.82 L207.90,248.77 L208.13,248.72 L208.37,248.66 L208.60,248.61 L208.83,248.55 L209.07,248.50 L209.30,248.45 L209.53,248.39 L209.77,248.34 L210.00,248.28 L210.23,248.23 L210.47,248.18 L210.70,248.12 L210.93,248.07 L211.17,248.01 L211.40,247.96 L211.63,247.91 L211.87,247.85 L212.10,247.80 L212.33,247.74 L212.57,247.69 L212.80,247.64 L213.03,247.58 L213.27,247.53 L213.50,247.47 L213.73,247.42 L213.97,247.37 L214.20,247.31 L214.43,247.26 L214.67,247.20 L214.90,247.15 L215.13,247.10 L215.37,247.04 L215.60,246.99 L215.83,246.93 L216.07,246.88 L216.30,246.82 L216.53,246.77 L216.77,246.72 L217.00,246.66 L217.23,246.61 L217.47,246.55 L217.70,246.50 L217.93,246.45 L218.17,246.39 L218.40,246.34 L218.63,246.28 L218.87,246.23 L219.10,246.18 L219.33,246.12 L219.57,246.07 L219.80,246.01 L220.03,245.96 L220.27,245.91 L220.50,245.85 L220.73,245.80 L220.97,245.74 L221.20,245.69 L221.43,245.64 L221.67,245.58 L221.90,245.53 L222.13,245.47 L222.37,245.42 L222.60,245.37 L222.83,245.31 L223.07,245.26 L223.30,245.20 L223.53,245.15 L223.77,245.10 L224.00,245.04 L224.23,244.99 L224.47,244.93 L224.70,244.88 L224.93,244.83 L225.17,244.77 L225.40,244.72 L225.63,244.66 L225.87,244.63 L226.10,244.61 L226.33,244.58 L226.57,244.55 L226.80,244.52 L227.03,244.49 L227.27,244.46 L227.50,244.43 L227.73,244.40 L227.97,244.38 L228.20,244.35 L228.43,244.32 L228.67,244.29 L228.90,244.26 L229.13,244.23 L229.37,244.23 L229.60,244.23 L229.83,244.22 L230.07,244.22 L230.30,244.22 L230.53,244.22 L230.77,244.21 L231.00,244.21 L231.23,244.21 L231.47,244.21 L231.70,244.20 L231.93,244.20 L232.17,244.20 L232.40,244.20 L232.63,244.19 L232.87,244.19 L233.10,244.19 L233.33,244.19 L233.57,244.19 L233.80,244.18 L234.03,244.18 L234.27,244.18 L234.50,244.18 L234.73,244.17 L234.97,244.17 L235.20,244.17 L235.43,244.17 L235.67,244.16 L235.90,244.16 L236.13,244.16 L236.37,244.16 L236.60,244.15 L236.83,244.15 L237.07,244.15 L237.30,244.15 L237.53,244.14 L237.77,244.14 L238.00,244.14 L238.23,244.14 L238.47,244.13 L238.70,244.13 L238.93,244.13 L239.17,244.13 L239.40,244.13 L239.63,244.12" stroke="#000080" stroke-width="1.1"/>
<path d="M192.97,248.99 L193.20,248.99 L193.43,248.99 L193.67,248.99 L193.90,248.99 L194.13,248.99 L194.37,248.99 L194.60,248.99 L194.83,248.99 L195.07,248.99 L195.30,248.99 L195.53,248.99 L195.77,248.99 L196.00,248.99 L196.23,248.99 L196.47,248.99 L196.70,248.99 L196.93,248.99 L197.17,248.99 L197.40,248.99 L197.63,248.99 L197.87,248.99 L198.10,248.99 L198.33,248.99 L198.57,248.99 L198.80,248.99 L199.03,248.99 L199.27,248.99 L199.50,248.99 L199.73,248.99 L199.97,248.99 L200.20,248.99 L200.43,248.99 L200.67,248.99 L200.90,248.99 L201.13,248.99 L201.37,248.99 L201.60,248.99 L201.83,248.99 L202.07,248.99 L202.30,248.99 L202.53,248.99 L202.77,248.99 L203.00,248.99 L203.23,248.99 L203.47,248.99 L203.70,248.99 L203.93,248.99 L204.17,248.99 L204.40,248.99 L204.63,248.99 L204.87,248.96 L205.10,248.93 L205.33,248.91 L205.57,248.88 L205.80,248.85 L206.03,248.82 L206.27,248.80 L206.50,248.77 L206.73,248.74 L206.97,248.72 L207.20,248.69 L207.43,248.66 L207.67,248.61 L207.90,248.57 L208.13,248.52 L208.37,248.47 L208.60,248.42 L208.83,248.37 L209.07,248.32 L209.30,248.28 L209.53,248.23 L209.77,248.18 L210.00,248.13 L210.23,248.08 L210.47,248.03 L210.70,247.99 L210.93,247.94 L211.17,247.89 L211.40,247.84 L211.63,247.79 L211.87,247.74 L212.10,247.70 L212.33,247.65 L212.57,247.60 L212.80,247.55 L213.03,247.50 L213.27,247.45 L213.50,247.41 L213.73,247.36 L213.97,247.31 L214.20,247.26 L214.43,247.21 L214.67,247.16 L214.90,247.12 L215.13,247.07 L215.37,247.02 L215.60,246.97 L215.83,246.92 L216.07,246.87 L216.30,246.82 L216.53,246.78 L216.77,246.73 L217.00,246.68 L217.23,246.63 L217.47,246.58 L217.70,246.53 L217.93,246.49 L218.17,246.44 L218.40,246.39 L218.63,246.34 L218.87,246.29 L219.10,246.24 L219.33,246.20 L219.57,246.15 L219.80,246.10 L220.03,246.05 L220.27,246.00 L220.50,245.95 L220.73,245.91 L220.97,245.86 L221.20,245.81 L221.43,245.76 L221.67,245.71 L221.90,245.66 L222.13,245.62 L222.37,245.57 L222.60,245.52 L222.83,245.47 L223.07,245.42 L223.30,245.37 L223.53,245.33 L223.77,245.28 L224.00,245.23 L224.23,245.18 L224.47,245.13 L224.70,245.08 L224.93,245.04 L225.17,244.99 L225.40,244.96 L225.63,244.93 L225.87,244.91 L226.10,244.88 L226.33,244.85 L226.57,244.83 L226.80,244.80 L227.03,244.77 L227.27,244.74 L227.50,244.72 L227.73,244.69 L227.97,244.66 L228.20,244.66 L228.43,244.66 L228.67,244.66 L228.90,244.66 L229.13,244.66 L229.37,244.66 L229.60,244.66 L229.83,244.66 L230.07,244.66 L230.30,244.66 L230.53,244.66 L230.77,244.66 L231.00,244.66 L231.23,244.66 L231.47,244.66 L231.70,244.66 L231.93,244.66 L232.17,244.66 L232.40,244.66 L232.63,244.66 L232.87,244.66 L233.10,244.66 L233.33,244.66 L233.57,244.66 L233.80,244.66 L234.03,244.66 L234.27,244.66 L234.50,244.66 L234.73,244.66 L234.97,244.66 L235.20,244.66 L235.43,244.66 L235.67,244.66 L235.90,244.66 L236.13,244.66 L236.37,244.66 L236.60,244.66 L236.83,244.66 L237.07,244.66 L237.30,244.66 L237.53,244.66 L237.77,244.66 L238.00,244.66 L238.23,244.66 L238.47,244.66 L238.70,244.66 L238.93,244.66 L239.17,244.66 L239.40,244.66 L239.63,244.66" stroke="#000" stroke-width="1.15"/>
</g>
<path d="M192.97,279.25v-2.60M192.97,214.40v2.60M204.63,279.25v-1.50M204.63,214.40v1.50M216.30,279.25v-2.60M216.30,214.40v2.60M227.97,279.25v-1.50M227.97,214.40v1.50M239.63,279.25v-2.60M239.63,214.40v2.60M181.30,271.14h1.50M251.30,271.14h-1.50M181.30,263.04h2.60M251.30,263.04h-2.60M181.30,254.93h1.50M251.30,254.93h-1.50M181.30,246.82h2.60M251.30,246.82h-2.60M181.30,238.72h1.50M251.30,238.72h-1.50M181.30,230.61h2.60M251.30,230.61h-2.60M181.30,222.51h1.50M251.30,222.51h-1.50" stroke="#000" stroke-width="0.9" fill="none"/>
<text transform="translate(192.17,287.25) scale(1,1.060)" font-size="8.7" text-anchor="middle" stroke="#000">-1</text>
<text transform="translate(216.30,287.25) scale(1,1.060)" font-size="8.7" text-anchor="middle" stroke="#000">0</text>
<text transform="translate(239.63,287.25) scale(1,1.060)" font-size="8.7" text-anchor="middle" stroke="#000">1</text>
<text transform="translate(180.00,217.60) scale(1,1.060)" font-size="8.7" text-anchor="end" stroke="#000">0.6</text>
<text transform="translate(180.00,233.81) scale(1,1.060)" font-size="8.7" text-anchor="end" stroke="#000">0.3</text>
<text transform="translate(180.00,250.02) scale(1,1.060)" font-size="8.7" text-anchor="end" stroke="#000">0.0</text>
<text transform="translate(180.00,266.24) scale(1,1.060)" font-size="8.7" text-anchor="end" stroke="#000">-0.3</text>
<text transform="translate(180.00,282.45) scale(1,1.060)" font-size="8.7" text-anchor="end" stroke="#000">-0.6</text>
<text transform="translate(226.80,273.30) scale(1,1.060)" font-size="9.5" text-anchor="middle" stroke="#000">μ<tspan font-size="6" dy="1.6">0</tspan><tspan dy="-1.6">H (T)</tspan></text>
<text transform="translate(161.70,244.50) rotate(-90) scale(1.060,1)" font-size="8.8" text-anchor="middle" stroke="#000">ρ<tspan font-size="5.6" dy="1.6">zx</tspan><tspan dy="-1.6"> (μΩ cm)</tspan></text>
<text transform="translate(233.50,226.40) scale(1,1.060)" font-size="6.9" fill="#8000ff" stroke="#8000ff">100K</text>
<text transform="translate(233.50,237.80) scale(1,1.060)" font-size="6.9" fill="#00bfff" stroke="#00bfff">50K</text>
<text transform="translate(183.50,239.00) scale(1,1.060)" font-size="6.9" stroke="#000"><tspan fill="#0000cd" stroke="#0000cd">10K</tspan> &amp; 2K</text>
<path d="M198,241 L201.5,247" stroke="#000" stroke-width="0.8" fill="none"/>
<path d="M202.8,249.3 L199.4,246.2 L202.2,244.7 Z" fill="#000"/>
</g>
<g id="panelB">
<defs><radialGradient id="ball" cx="37%" cy="35%" r="30%"><stop offset="0" stop-color="#e6e6e6"/><stop offset="0.45" stop-color="#8a8a8a"/><stop offset="1" stop-color="#000"/></radialGradient></defs>
<circle cx="78.69" cy="481.67" r="3.4" fill="url(#ball)"/>
<circle cx="86.09" cy="480.98" r="3.4" fill="url(#ball)"/>
<circle cx="98.55" cy="479.05" r="3.4" fill="url(#ball)"/>
<circle cx="108.06" cy="476.69" r="3.4" fill="url(#ball)"/>
<circle cx="134.24" cy="464.11" r="3.4" fill="url(#ball)"/>
<circle cx="169.24" cy="434.64" r="3.4" fill="url(#ball)"/>
<circle cx="210.13" cy="388.30" r="3.4" fill="url(#ball)"/>
<circle cx="249.74" cy="342.93" r="3.4" fill="url(#ball)"/>
<path d="M78.10,482.92 L81.20,482.31 L84.30,481.64M86.65,481.07 L87.63,480.83 L88.60,480.58M91.01,479.92 L94.11,479.01 L97.21,478.03M99.61,477.22 L100.59,476.88 L101.51,476.55M103.92,475.66 L107.01,474.46 L110.11,473.18M112.52,472.13 L113.50,471.69 L114.47,471.25M116.88,470.12 L119.98,468.61 L123.08,467.03M125.48,465.75 L126.46,465.22 L127.38,464.71M129.79,463.35 L132.88,461.54 L135.98,459.65M138.39,458.14 L139.37,457.51 L140.34,456.88M142.75,455.28 L145.85,453.17 L148.95,450.98M151.30,449.27 L152.27,448.55 L153.25,447.82M155.66,445.99 L158.75,443.57 L161.85,441.08M164.26,439.10 L165.24,438.28 L166.21,437.46M168.56,435.44 L171.66,432.72 L174.76,429.93M177.17,427.71 L178.14,426.80 L179.12,425.88M181.53,423.58 L184.63,420.56 L187.72,417.47M190.13,415.01 L191.11,414.00 L192.02,413.05M194.43,410.51 L197.53,407.19 L200.57,403.86M202.92,401.23 L203.84,400.20 L204.76,399.16M207.00,396.59 L209.86,393.24 L212.73,389.84M214.85,387.27 L215.72,386.22 L216.58,385.17M218.64,382.62 L221.34,379.24 L223.98,375.88M225.98,373.28 L226.79,372.24 L227.53,371.26M229.54,368.62 L232.01,365.32 L234.47,361.98M236.37,359.39 L237.17,358.28 L237.91,357.25M239.75,354.69 L242.10,351.37 L244.45,348.00M246.29,345.35 L246.98,344.35 L247.67,343.34M249.44,340.73 L249.79,340.22 L250.13,339.71" stroke="#ff0000" stroke-width="1.55" fill="none"/>
<rect x="60.70" y="330.20" width="196.10" height="166.00" fill="none" stroke="#000" stroke-width="1.2"/>
<path d="M85.21,496.20v-2.30M85.21,330.20v2.30M109.73,496.20v-3.90M109.73,330.20v3.90M134.24,496.20v-2.30M134.24,330.20v2.30M158.75,496.20v-3.90M158.75,330.20v3.90M183.26,496.20v-2.30M183.26,330.20v2.30M207.78,496.20v-3.90M207.78,330.20v3.90M232.29,496.20v-2.30M232.29,330.20v2.30M60.70,482.37h3.90M256.80,482.37h-3.90M60.70,468.53h2.30M256.80,468.53h-2.30M60.70,454.70h3.90M256.80,454.70h-3.90M60.70,440.87h2.30M256.80,440.87h-2.30M60.70,427.03h3.90M256.80,427.03h-3.90M60.70,413.20h2.30M256.80,413.20h-2.30M60.70,399.37h3.90M256.80,399.37h-3.90M60.70,385.53h2.30M256.80,385.53h-2.30M60.70,371.70h3.90M256.80,371.70h-3.90M60.70,357.87h2.30M256.80,357.87h-2.30M60.70,344.03h3.90M256.80,344.03h-3.90" stroke="#000" stroke-width="1.0" fill="none"/>
<text transform="translate(60.70,509.30) scale(1,1.060)" font-size="10.0" text-anchor="middle" stroke="#000">0</text>
<text transform="translate(109.73,509.30) scale(1,1.060)" font-size="10.0" text-anchor="middle" stroke="#000">50</text>
<text transform="translate(158.75,509.30) scale(1,1.060)" font-size="10.0" text-anchor="middle" stroke="#000">100</text>
<text transform="translate(207.78,509.30) scale(1,1.060)" font-size="10.0" text-anchor="middle" stroke="#000">150</text>
<text transform="translate(256.80,509.30) scale(1,1.060)" font-size="10.0" text-anchor="middle" stroke="#000">200</text>
<text transform="translate(56.10,486.07) scale(1,1.060)" font-size="10.0" text-anchor="end" stroke="#000">0</text>
<text transform="translate(56.10,458.40) scale(1,1.060)" font-size="10.0" text-anchor="end" stroke="#000">2</text>
<text transform="translate(56.10,430.73) scale(1,1.060)" font-size="10.0" text-anchor="end" stroke="#000">4</text>
<text transform="translate(56.10,403.07) scale(1,1.060)" font-size="10.0" text-anchor="end" stroke="#000">6</text>
<text transform="translate(56.10,375.40) scale(1,1.060)" font-size="10.0" text-anchor="end" stroke="#000">8</text>
<text transform="translate(56.10,347.73) scale(1,1.060)" font-size="10.0" text-anchor="end" stroke="#000">10</text>
<text transform="translate(162.15,523.40) scale(1,1.060)" font-size="11.0" text-anchor="middle" stroke="#000">ρ<tspan font-size="7" dy="2">xx</tspan><tspan dy="-2"> (μΩ cm)</tspan></text>
<text transform="translate(39.60,418.20) rotate(-90) scale(1.060,1)" font-size="10.4" text-anchor="middle" stroke="#000">ρ<tspan font-size="6.8" dy="2.5">zx</tspan><tspan font-size="6.8" dy="-8" dx="-6.2">AH</tspan><tspan dy="5.5"> (μΩ cm)</tspan></text>
<text transform="translate(24.30,346.90) scale(1,1.060)" font-size="10.4" stroke="#000">(b)</text>
<text transform="translate(74.20,361.00) scale(1,1.060)" font-size="9.7" stroke="#000">σ<tspan font-size="6" dy="2.6">xz</tspan><tspan font-size="6" dy="-7" dx="-5.6">int</tspan><tspan dy="4.4"> = 284 ± 8 Ω</tspan><tspan font-size="5.6" dy="-4.4">-1</tspan><tspan dy="4.4" dx="0.5"> cm</tspan><tspan font-size="5.6" dy="-4.4">-1</tspan></text>
<defs><linearGradient id="hexg" x1="0" y1="0" x2="0.3" y2="1"><stop offset="0" stop-color="#cfcfcf"/><stop offset="1" stop-color="#bdbdbd"/></linearGradient></defs>
<polygon points="185.9,470.5 201.1,482.3 224.7,479.7 235.9,468.4 235.9,470.3 224.7,482.1 201.1,484.7 185.9,472.4" fill="#484848"/>
<polygon points="185.9,470.5 197.7,459.0 220.5,456.6 235.9,468.4 224.7,479.7 201.1,482.3" fill="url(#hexg)"/>
<path d="M212.4,469.8 L212.4,449" stroke="#4f9132" stroke-width="1.5" fill="none"/>
<path d="M212.4,444.8 L210.1,450.2 L214.7,450.2 Z" fill="#4f9132"/>
<path d="M211.7,469.8 L210,461.5" stroke="#ee1c25" stroke-width="1.6" fill="none"/>
<path d="M209,457.2 L207.6,462.8 L212.2,461.8 Z" fill="#ee1c25"/>
<path d="M212,470.2 L230.5,468" stroke="#4a94dc" stroke-width="2.0" fill="none"/>
<path d="M235.4,467.4 L229.8,464.8 L230.5,470.8 Z" fill="#4a94dc"/>
<text transform="translate(209.60,443.40) scale(1,1.060)" font-size="6.4" fill="#4f9132" stroke="#4f9132" font-style="italic" stroke-width="0" fill-opacity="0.85">E<tspan font-size="4.2" dy="1.2">y</tspan></text>
<text transform="translate(203.40,454.50) scale(1,1.060)" font-size="6.4" fill="#ee1c25" stroke="#ee1c25" font-style="italic" stroke-width="0" fill-opacity="0.85">B<tspan font-size="4.2" dy="1.2">z</tspan></text>
<text transform="translate(239.00,471.00) scale(1,1.060)" font-size="6.4" fill="#4a94dc" stroke="#4a94dc" font-style="italic" stroke-width="0" fill-opacity="0.85">I<tspan font-size="4.2" dy="1.2">x</tspan></text>
</g>
</svg></body></html>
